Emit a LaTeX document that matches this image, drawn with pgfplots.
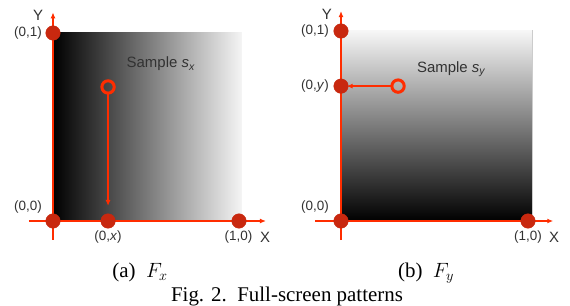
\documentclass[border=0pt]{standalone}
\usepackage{pgfplots}
\pgfplotsset{compat=1.18}
\usepackage{fontspec}
\setmainfont{Liberation Serif}
\newfontfamily\lab{Liberation Sans}
\usetikzlibrary{arrows.meta}
\definecolor{axred}{RGB}{255,45,0}
\definecolor{dotred}{RGB}{200,40,15}
\definecolor{labgray}{RGB}{50,50,50}
\tikzset{
  lbl/.style={font=\lab\fontsize{13.5}{15}\selectfont, text=labgray, inner sep=1pt},
  big/.style={font=\lab\fontsize{15}{17}\selectfont},
  axline/.style={axred, line width=2bp, -{Latex[length=6bp,width=5bp]}},
}
\pgfplotsset{
  panel/.style={
    anchor=origin, hide axis, clip=false,
    x=186bp, y=188bp,
    xmin=-0.15, xmax=1.16, ymin=-0.12, ymax=1.12,
    point meta min=0, point meta max=1,
  },
  dots/.style={only marks, mark=*, mark size=7.3pt, mark options={fill=dotred, draw=dotred}},
  ring/.style={only marks, mark=o, mark size=6.2pt, mark options={draw=axred, line width=3bp}},
}
\begin{document}
\begin{tikzpicture}
\useasboundingbox (0,0) rectangle (570bp,-306bp);
% ---------- panel (a)
\begin{axis}[panel, at={(53bp,-221bp)},
  colormap={ga}{gray(0cm)=(0); gray(1cm)=(0.96)}]
\addplot[surf, shader=interp, mesh/rows=2, mesh/cols=2, point meta=explicit] coordinates {
  (0,0) [0] (1.016,0) [1]
  (0,1.005) [0] (1.016,1.005) [1]
};
\addplot[axline] coordinates {(0,-0.10) (0,1.11)};
\addplot[axline] coordinates {(-0.13,0) (1.145,0)};
\addplot[axred, line width=1.6bp, -{Latex[length=6bp,width=5bp]}] coordinates {(0.296,0.675) (0.296,0.08)};
\addplot[dots] coordinates {(0,1) (0,0) (0.296,0) (1,0)};
\addplot[ring] coordinates {(0.296,0.713)};
\node[lbl, anchor=east] at (axis cs:-0.054,1) {(0,1)};
\node[lbl, anchor=east] at (axis cs:-0.054,0.074) {(0,0)};
\node[lbl] at (axis cs:0.296,-0.085) {(0,\textit{x})};
\node[lbl] at (axis cs:0.997,-0.085) {(1,0)};
\node[lbl, big] at (axis cs:1.14,-0.085) {X};
\node[lbl, big] at (axis cs:-0.08,1.096) {Y};
\node[lbl, big] at (axis cs:0.58,0.835) {Sample \textit{s}\textsubscript{\textit{x}}};
\end{axis}
% ---------- panel (b)
\begin{axis}[panel, at={(341bp,-221bp)}, x=187bp, y=190bp,
  colormap={gb}{gray(0cm)=(0); gray(1cm)=(0.97)}]
\addplot[surf, shader=interp, mesh/rows=2, mesh/cols=2, point meta=explicit] coordinates {
  (0,0) [0] (1.021,0) [0]
  (0,1.005) [1] (1.021,1.005) [1]
};
\addplot[gray!40, line width=0.6bp] coordinates {(1.021,0) (1.021,1.005)};
\addplot[axline] coordinates {(0,-0.10) (0,1.105)};
\addplot[axline] coordinates {(-0.139,0) (1.135,0)};
\addplot[axred, line width=1.6bp, -{Latex[length=6bp,width=5bp]}] coordinates {(0.265,0.71) (0.03,0.71)};
\addplot[dots] coordinates {(0,1) (0,0.71) (0,0) (1,0)};
\addplot[ring] coordinates {(0.305,0.71)};
\node[lbl, anchor=east] at (axis cs:-0.059,1) {(0,1)};
\node[lbl, anchor=east] at (axis cs:-0.059,0.71) {(0,\textit{y})};
\node[lbl, anchor=east] at (axis cs:-0.059,0.074) {(0,0)};
\node[lbl] at (axis cs:1,-0.084) {(1,0)};
\node[lbl, big] at (axis cs:1.14,-0.084) {X};
\node[lbl, big] at (axis cs:-0.075,1.09) {Y};
\node[lbl, big] at (axis cs:0.59,0.8) {Sample \textit{s}\textsubscript{\textit{y}}};
\end{axis}
% ---------- captions
\node[anchor=base, font=\fontsize{21}{25}\selectfont, inner sep=0pt] at (140bp,-277bp) {(a)\ \ $F_x$};
\node[anchor=base, font=\fontsize{21}{25}\selectfont, inner sep=0pt] at (426bp,-277bp) {(b)\ \ $F_y$};
\node[anchor=base, font=\fontsize{21}{25}\selectfont, inner sep=0pt] at (287bp,-301bp) {Fig. 2.\ \ Full-screen patterns};
\end{tikzpicture}
\end{document}
